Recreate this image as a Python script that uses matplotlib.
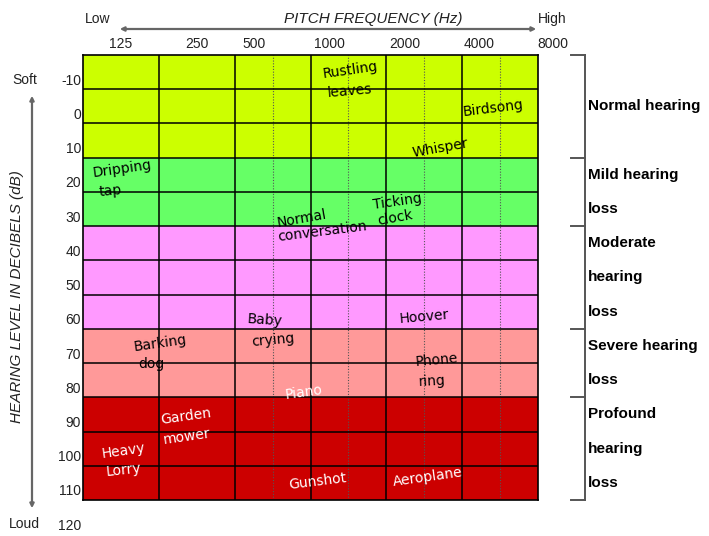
import matplotlib
matplotlib.use('Agg')
import matplotlib.pyplot as plt
from matplotlib.transforms import blended_transform_factory

# frequency columns (octave index: 0 = left edge of 125 Hz column)
freq_labels = ['125', '250', '500', '1000', '2000', '4000', '8000']
freq_label_x = [0.5, 1.5, 2.26, 3.25, 4.24, 5.23, 6.2]
solid_cols = [1, 2, 3, 4, 5]
dotted_cols = [2.5, 3.5, 4.5, 5.5]

# hearing level rows (dB)
db_labels = [-10, 0, 10, 20, 30, 40, 50, 60, 70, 80, 90, 100, 110, 120]
row_lines = list(range(-10, 110, 10))

# hearing bands
band_edges = [-20, 10, 30, 60, 80, 110]
band_colors = ['#CCFF00', '#66FF66', '#FF99FF', '#FF9999', '#CC0000']
band_text = [
    ['Normal hearing'],
    ['Mild hearing', 'loss'],
    ['Moderate', 'hearing', 'loss'],
    ['Severe hearing', 'loss'],
    ['Profound', 'hearing', 'loss'],
]
band_text_rows = [[-5], [15, 25], [35, 45, 55], [65, 75], [85, 95, 105]]

# everyday sounds: word, octave position, dB level
sound_words = ['Rustling', 'leaves', 'Birdsong', 'Whisper', 'Dripping', 'tap',
               'Ticking', 'clock', 'Normal', 'conversation', 'Baby', 'crying',
               'Hoover', 'Barking', 'dog', 'Phone', 'ring', 'Piano', 'Garden',
               'mower', 'Heavy', 'Lorry', 'Gunshot', 'Aeroplane']
sound_x = [3.52, 3.52, 5.41, 4.71, 0.51, 0.36, 4.15, 4.11, 2.89, 3.15, 2.40, 2.51,
           4.50, 1.02, 0.90, 4.66, 4.60, 2.91, 1.36, 1.37, 0.53, 0.54, 3.10, 4.55]
sound_db = [-15.6, -9.5, -4.5, 7.2, 13.3, 19.7, 22.7, 27.6, 27.9, 31.7, 57.4, 63.3,
            56.5, 64.1, 70.3, 69.1, 75.2, 78.7, 85.5, 91.6, 95.7, 101.2, 104.7, 103.3]
sound_rot = [8, 5, 7, 10, 8, 5, 8, 10, 10, 7, -4, 5,
             5, 8, 0, 5, 3, 8, 8, 8, 8, 6, 7, 8]
white_words = {'Piano', 'Garden', 'mower', 'Heavy', 'Lorry', 'Gunshot', 'Aeroplane'}

narrow = ['Liberation Sans Narrow', 'Liberation Sans', 'DejaVu Sans']
arial = ['Liberation Sans', 'DejaVu Sans']

fig = plt.figure(figsize=(7.09, 5.36), dpi=100)
ax = fig.add_axes([83 / 709, 36 / 536, 455 / 709, 445 / 536])
ax.set_xlim(0, 6)
ax.set_ylim(110, -20)

for lo, hi, c in zip(band_edges[:-1], band_edges[1:], band_colors):
    ax.axhspan(lo, hi, color=c, lw=0, zorder=0)
for y in row_lines:
    ax.axhline(y, color='black', lw=1.1, zorder=2)
for x in solid_cols:
    ax.axvline(x, color='black', lw=1.1, zorder=2)
for x in dotted_cols:
    ax.axvline(x, color='#555555', lw=0.8, ls=(0, (1, 1.5)), zorder=1)
for s in ax.spines.values():
    s.set_linewidth(1.2)
ax.set_xticks([])
ax.set_yticks([])

# tick labels
tx = blended_transform_factory(ax.transData, ax.transAxes)
for lab, x in zip(freq_labels, freq_label_x):
    ax.text(x, 1.025, lab, transform=tx, ha='center', va='center',
            fontsize=10, family=narrow, color='#222222', clip_on=False)
ty = blended_transform_factory(ax.transAxes, ax.transData)
for d in db_labels:
    ax.text(-0.004, d - 2.5, str(d), transform=ty, ha='right', va='center',
            fontsize=10, family=narrow, color='#222222', clip_on=False)

# sound labels
for w, x, d, r in zip(sound_words, sound_x, sound_db, sound_rot):
    ax.text(x, d, w, ha='center', va='center', rotation=r, rotation_mode='anchor',
            fontsize=10, color='white' if w in white_words else 'black', zorder=5)

# top axis annotation
fig.text(373 / 709, 1 - 19 / 536, 'PITCH FREQUENCY (Hz)', ha='center', va='center',
         fontsize=11, style='italic', family=arial, color='#222222')
fig.text(98 / 709, 1 - 19 / 536, 'Low', ha='center', va='center',
         fontsize=10, family=narrow, color='#222222')
fig.text(552 / 709, 1 - 19 / 536, 'High', ha='center', va='center',
         fontsize=10, family=narrow, color='#222222')
fig.add_artist(matplotlib.patches.FancyArrowPatch(
    (117 / 709, 1 - 29 / 536), (539 / 709, 1 - 29 / 536), transform=fig.transFigure,
    arrowstyle='<|-|>', mutation_scale=6, color='#666666', lw=1.6))

# left axis annotation
fig.text(17 / 709, 1 - 297 / 536, 'HEARING LEVEL IN DECIBELS (dB)', rotation=90,
         ha='center', va='center', fontsize=11, style='italic', family=arial,
         color='#222222')
fig.text(25 / 709, 1 - 80 / 536, 'Soft', ha='center', va='center',
         fontsize=10, family=narrow, color='#222222')
fig.text(24 / 709, 1 - 524 / 536, 'Loud', ha='center', va='center',
         fontsize=10, family=narrow, color='#222222')
fig.add_artist(matplotlib.patches.FancyArrowPatch(
    (32 / 709, 1 - 93 / 536), (32 / 709, 1 - 511 / 536), transform=fig.transFigure,
    arrowstyle='<|-|>', mutation_scale=6, color='#666666', lw=1.6))

# right brackets with band names
tr = blended_transform_factory(fig.transFigure, ax.transData)
ax.plot([585 / 709, 585 / 709], [band_edges[0], band_edges[-1]], transform=tr,
        color='#555555', lw=1.4, clip_on=False)
for e in band_edges:
    ax.plot([571 / 709, 585 / 709], [e, e], transform=tr, color='#555555',
            lw=1.4, clip_on=False)
for lines, rows in zip(band_text, band_text_rows):
    for t, r in zip(lines, rows):
        ax.text(588 / 709, r, t, transform=tr, ha='left', va='center',
                fontsize=11, weight='bold', family=arial, color='black',
                clip_on=False)

fig.savefig('out.png', dpi=100)
